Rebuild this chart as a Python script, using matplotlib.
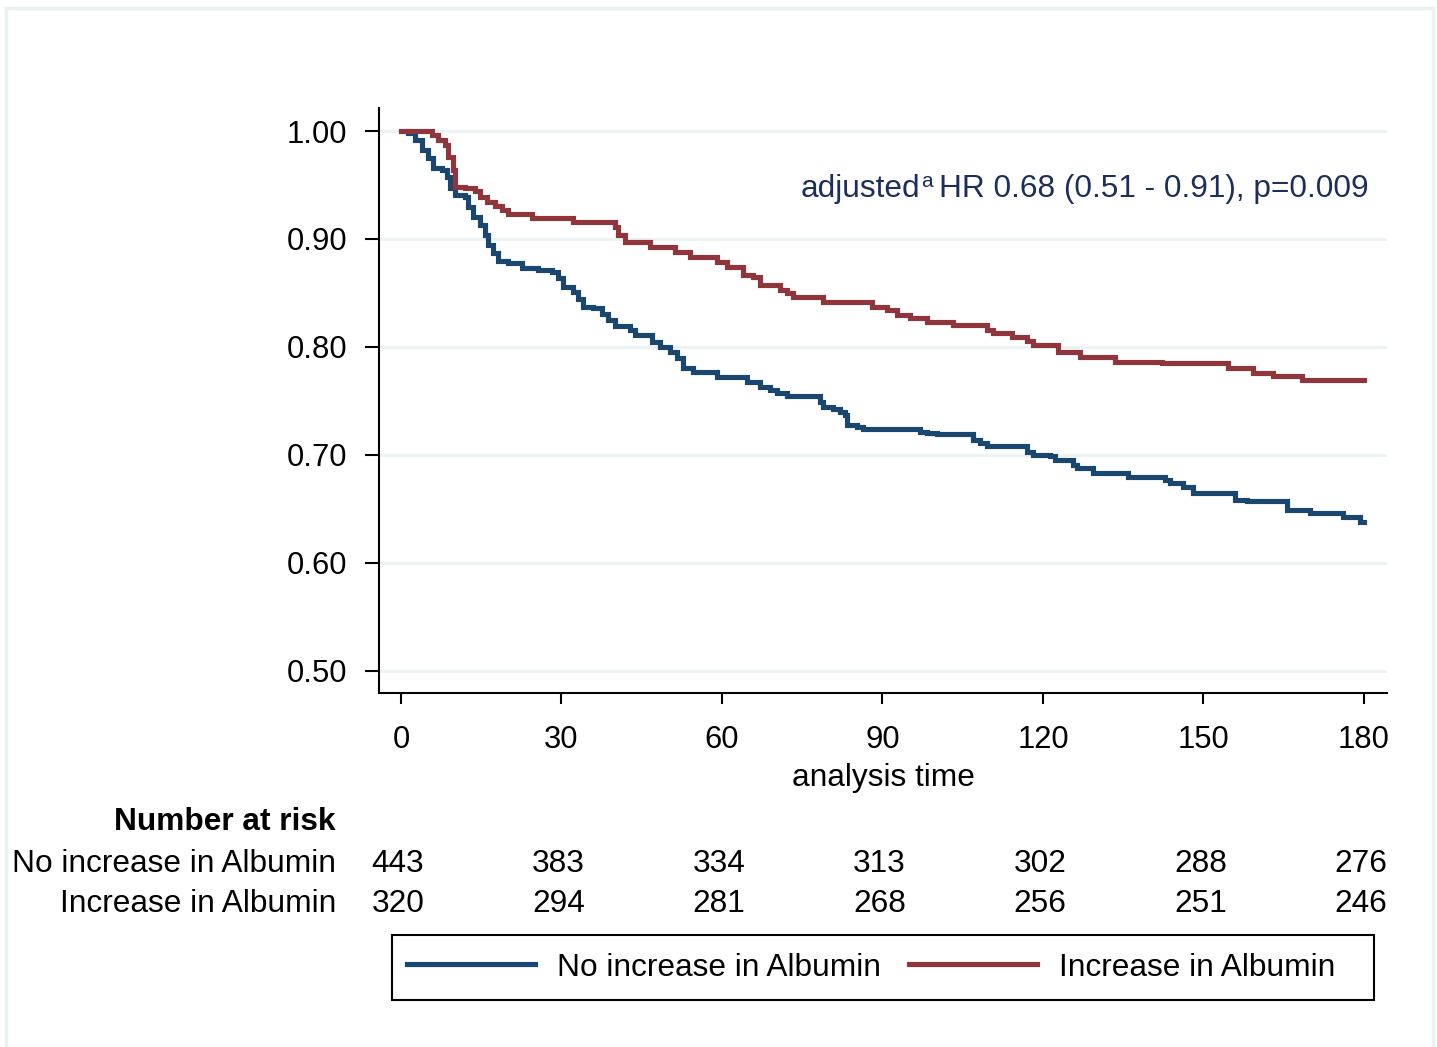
import numpy as np
import matplotlib.pyplot as plt
from matplotlib.patches import Rectangle
from matplotlib.lines import Line2D
from matplotlib import transforms

plt.rcParams['font.family'] = ['Liberation Sans', 'DejaVu Sans']

# Kaplan-Meier steps (day, survival after the step)
t_no = [0, 1.3, 2.6, 3.9, 5.0, 6.0, 7.7, 8.6, 9.2, 10.1, 12.0, 12.5, 13.5, 14.8,
        15.7, 16.3, 17.2, 18.1, 20.0, 22.6, 25.6, 28.2, 29.3, 30.3, 32.1, 33.1,
        34.0, 35.9, 37.6, 38.7, 40.0, 42.8, 43.7, 46.9, 48.4, 50.3, 51.6, 52.7,
        54.6, 59.1, 64.7, 67.1, 69.0, 70.3, 72.1, 78.3, 78.9, 80.7, 82.1, 83.0,
        83.4, 85.2, 86.4, 97.0, 98.3, 100.2, 106.9, 108.2, 109.5, 117.0, 118.1,
        121.3, 122.2, 125.6, 126.4, 129.3, 135.9, 142.8, 143.7, 146.2, 148.0,
        155.9, 158.1, 165.6, 169.9, 176.1, 179.3, 180]
s_no = [1.000, 0.998, 0.992, 0.982, 0.975, 0.966, 0.964, 0.957, 0.947, 0.941,
        0.939, 0.930, 0.920, 0.913, 0.904, 0.894, 0.887, 0.880, 0.878, 0.873,
        0.871, 0.869, 0.864, 0.856, 0.851, 0.844, 0.837, 0.836, 0.831, 0.825,
        0.819, 0.816, 0.811, 0.805, 0.800, 0.795, 0.790, 0.781, 0.777, 0.772,
        0.768, 0.763, 0.760, 0.757, 0.755, 0.749, 0.744, 0.743, 0.740, 0.737,
        0.728, 0.726, 0.724, 0.721, 0.720, 0.719, 0.714, 0.711, 0.708, 0.703,
        0.700, 0.699, 0.695, 0.691, 0.688, 0.683, 0.680, 0.677, 0.674, 0.670,
        0.665, 0.658, 0.657, 0.649, 0.646, 0.643, 0.638, 0.638]

t_inc = [0, 5.8, 6.9, 8.2, 8.8, 9.7, 10.1, 12.0, 13.8, 14.8, 16.1, 17.6, 18.9,
         20.0, 24.5, 32.1, 40.0, 40.6, 41.9, 46.5, 51.2, 54.0, 59.1, 61.0, 63.9,
         65.8, 67.1, 70.8, 72.1, 73.3, 78.9, 88.0, 90.8, 92.7, 95.1, 98.3, 103.2,
         109.5, 110.7, 114.2, 117.0, 118.1, 122.8, 126.9, 133.5, 142.2, 154.6,
         159.3, 163.0, 168.4, 180]
s_inc = [1.000, 0.996, 0.992, 0.987, 0.976, 0.964, 0.948, 0.947, 0.944, 0.939,
         0.934, 0.931, 0.927, 0.923, 0.919, 0.916, 0.911, 0.904, 0.897, 0.893,
         0.888, 0.883, 0.879, 0.874, 0.867, 0.865, 0.857, 0.853, 0.850, 0.846,
         0.842, 0.837, 0.834, 0.830, 0.827, 0.823, 0.820, 0.816, 0.813, 0.809,
         0.806, 0.802, 0.795, 0.791, 0.786, 0.785, 0.781, 0.776, 0.773, 0.769,
         0.769]

risk_times = [0, 30, 60, 90, 120, 150, 180]
risk_no = [443, 383, 334, 313, 302, 288, 276]
risk_inc = [320, 294, 281, 268, 256, 251, 246]
group_labels = ['No increase in Albumin', 'Increase in Albumin']

blue = '#1a476f'
red = '#90353b'
grid_col = '#eaf2f3'
navy = '#1c2e5c'
fs = 22.8
W, H = 1437, 1047

fig = plt.figure(figsize=(14.37, 10.47), dpi=100)

# light outer frame of the graph region
fig.patches.append(Rectangle((6 / W, -0.02), 1427 / W, 1.02 - 8 / H, transform=fig.transFigure,
                             fill=False, edgecolor=grid_col, lw=2.5))

ax = fig.add_axes([379 / W, 1 - 693 / H, 1008 / W, 585 / H])
ax.step(t_no, s_no, where='post', color=blue, lw=3.7, solid_joinstyle='miter')
ax.step(t_inc, s_inc, where='post', color=red, lw=3.7, solid_joinstyle='miter')

ax.set_xlim(-4.1, 184.3)
ax.set_ylim(0.4796, 1.0213)
ax.set_xticks(risk_times)
ax.set_yticks([0.5, 0.6, 0.7, 0.8, 0.9, 1.0])
ax.set_yticklabels(['%.2f' % v for v in [0.5, 0.6, 0.7, 0.8, 0.9, 1.0]])
ax.yaxis.grid(True, color=grid_col, lw=2)
ax.set_axisbelow(True)
for side in ['top', 'right']:
    ax.spines[side].set_visible(False)
for side in ['left', 'bottom']:
    ax.spines[side].set_linewidth(1.5)
ax.tick_params(axis='both', labelsize=22.3, width=1.5, direction='out')
ax.tick_params(axis='y', length=10, pad=13)
ax.tick_params(axis='x', length=8, pad=15)
ax.set_xlabel('analysis time', fontsize=fs, labelpad=6)

# annotation, with a small superscript "a" set by hand (pixel coords)
base_y = H - 197
ann = fig.text(1369, base_y, 'HR 0.68 (0.51 - 0.91), p=0.009', fontsize=fs,
               color=navy, ha='right', va='baseline', transform=None)
fig.canvas.draw()
bb = ann.get_window_extent()
sup = fig.text(bb.x0 - 7, base_y + 10, 'a', fontsize=15, color=navy,
               ha='right', va='baseline', transform=None)
fig.canvas.draw()
bb2 = sup.get_window_extent()
fig.text(bb2.x0 - 1, base_y, 'adjusted', fontsize=fs, color=navy,
         ha='right', va='baseline', transform=None)

# number at risk table
tr = transforms.blended_transform_factory(ax.transData, fig.transFigure)
tr = tr + transforms.ScaledTranslation(-3 / 100, 0, fig.dpi_scale_trans)
lab_x = 336 / W
fig.text(lab_x, 1 - 822 / H, 'Number at risk', fontsize=fs, fontweight='bold',
         ha='right', va='center')
for row_y, name, counts in [(1 - 864 / H, group_labels[0], risk_no),
                            (1 - 904 / H, group_labels[1], risk_inc)]:
    fig.text(lab_x, row_y, name, fontsize=fs, ha='right', va='center')
    for t, n in zip(risk_times, counts):
        ax.text(t, row_y, str(n), transform=tr, fontsize=fs, ha='center',
                va='center', clip_on=False)

# legend: frame drawn separately to match the box width
fig.patches.append(Rectangle((392 / W, 1 - 1000 / H), 982 / W, 65 / H, transform=fig.transFigure,
                             fill=False, edgecolor='black', lw=1.5))
handles = [Line2D([], [], color=blue, lw=3.7), Line2D([], [], color=red, lw=3.7)]
fig.legend(handles, group_labels, loc='center left', bbox_to_anchor=(392 / W, 1 - 967.5 / H),
           ncol=2, fontsize=fs, frameon=False, borderaxespad=0,
           handlelength=4.05, handletextpad=0.7, columnspacing=0.88, borderpad=0.47)

fig.savefig('out.png', dpi=100, facecolor='white')
